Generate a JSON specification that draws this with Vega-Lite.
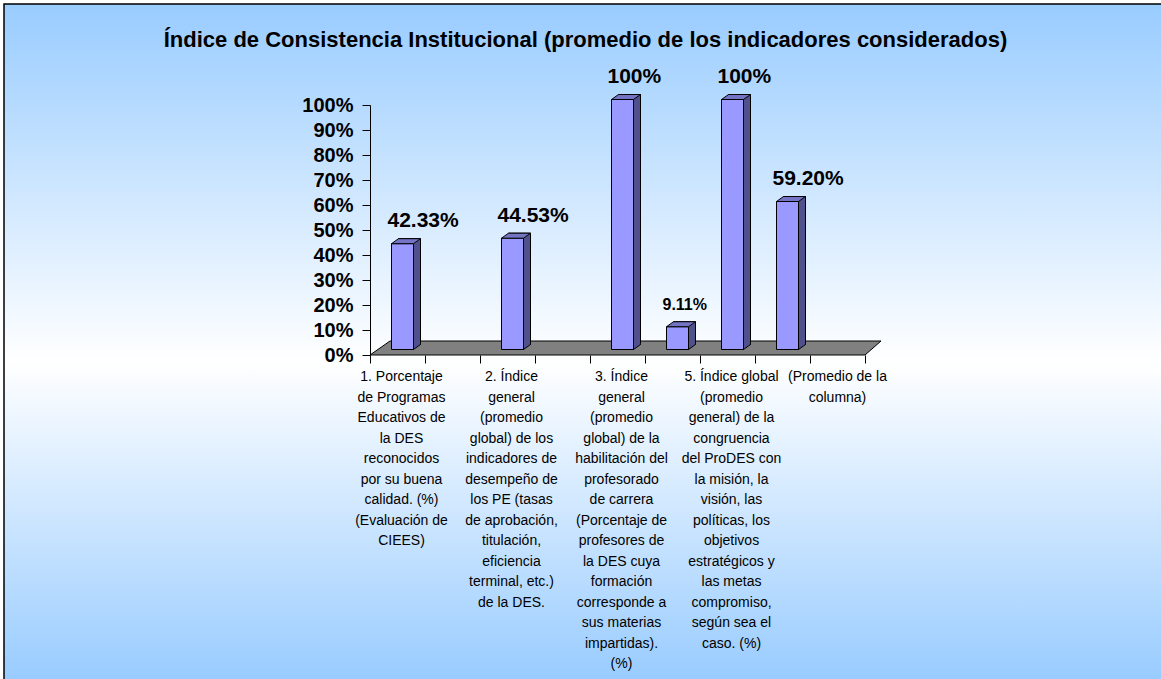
{
  "$schema": "https://vega.github.io/schema/vega-lite/v6.json",
  "autosize": {"type": "none"},
  "padding": {"left": 4, "top": 4, "right": 0, "bottom": 0},
  "width": 1157,
  "height": 675,
  "background": "white",
  "config": {
    "view": {
      "fill": {"gradient": "linear", "x1": 0, "y1": 0, "x2": 0, "y2": 1,
        "stops": [{"offset": 0, "color": "#99CCFF"}, {"offset": 0.53, "color": "#FFFFFF"}, {"offset": 1, "color": "#99CCFF"}]},
      "stroke": "black",
      "strokeWidth": 1.5,
      "strokeDash": [1157, 1832, 675]
    },
    "font": "Liberation Sans",
    "axis": {"domainColor": "black", "tickColor": "black", "grid": false}
  },
  "title": {
    "text": "Índice de Consistencia Institucional (promedio de los indicadores considerados)",
    "font": "Liberation Sans",
    "fontSize": 22,
    "fontWeight": "bold",
    "color": "black",
    "anchor": "middle",
    "frame": "group",
    "baseline": "alphabetic",
    "offset": -65,
    "dx": 3
  },
  "data": {
    "values": [
      {"cat": "1. Porcentaje|de Programas|Educativos de|la DES|reconocidos|por su buena|calidad. (%)|(Evaluación de|CIEES)", "value": 0.4233, "label": "42.33%"},
      {"cat": "2. Índice|general|(promedio|global)  de los|indicadores de|desempeño de|los PE (tasas|de aprobación,|titulación,|eficiencia|terminal, etc.)|de la DES.", "value": 0.4453, "label": "44.53%"},
      {"cat": "3. Índice|general|(promedio|global)  de la|habilitación del|profesorado|de carrera|(Porcentaje de|profesores de|la DES cuya|formación|corresponde a|sus materias|impartidas).|(%)", "value": 1, "label": "100%"},
      {"cat": "~c", "value": 0.0911, "label": "9.11%"},
      {"cat": "5. Índice global|(promedio|general) de la|congruencia|del ProDES con|la misión, la|visión, las|políticas, los|objetivos|estratégicos y|las metas|compromiso,|según sea el|caso. (%)", "value": 1, "label": "100%"},
      {"cat": "~d", "value": 0.592, "label": "59.20%"}
    ]
  },
  "encoding": {
    "x": {
      "field": "cat",
      "type": "nominal",
      "sort": null,
      "scale": {
        "domain": [
          "1. Porcentaje|de Programas|Educativos de|la DES|reconocidos|por su buena|calidad. (%)|(Evaluación de|CIEES)",
          "~a",
          "2. Índice|general|(promedio|global)  de los|indicadores de|desempeño de|los PE (tasas|de aprobación,|titulación,|eficiencia|terminal, etc.)|de la DES.",
          "~b",
          "3. Índice|general|(promedio|global)  de la|habilitación del|profesorado|de carrera|(Porcentaje de|profesores de|la DES cuya|formación|corresponde a|sus materias|impartidas).|(%)",
          "~c",
          "5. Índice global|(promedio|general) de la|congruencia|del ProDES con|la misión, la|visión, las|políticas, los|objetivos|estratégicos y|las metas|compromiso,|según sea el|caso. (%)",
          "~d",
          "(Promedio de la|columna)"
        ],
        "range": [366, 861],
        "paddingInner": 0,
        "paddingOuter": 0
      },
      "axis": {"orient": "bottom", "offset": -324, "title": null, "labels": false, "domain": false, "tickBand": "extent", "tickSize": 8}
    },
    "y": {
      "field": "value",
      "type": "quantitative",
      "scale": {"domain": [0, 1], "range": [351, 101], "nice": false},
      "axis": {
        "orient": "left",
        "offset": -366,
        "title": null,
        "values": [0, 0.1, 0.2, 0.3, 0.4, 0.5, 0.6, 0.7, 0.8, 0.9, 1],
        "format": ".0%",
        "tickSize": 8,
        "labelPadding": 9,
        "labelFont": "Liberation Sans",
        "labelFontSize": 20,
        "labelFontWeight": "bold",
        "labelColor": "black"
      }
    }
  },
  "layer": [
    {
      "transform": [{"filter": {"field": "value", "equal": 0.4233}}],
      "mark": {"type": "point", "shape": "M-27.5,0 L467.5,0 L483.5,-14 L-7.5,-14 Z", "size": 4, "filled": true, "fill": "#808080", "stroke": "black", "strokeWidth": 1, "opacity": 1},
      "encoding": {"y": {"datum": 0}}
    },
    {
      "mark": {"type": "bar", "width": {"band": 0.4}, "xOffset": 12, "yOffset": -10.5, "y2Offset": -10.5, "fill": "#50508C", "stroke": "black", "strokeWidth": 1},
      "encoding": {}
    },
    {
      "mark": {"type": "bar", "width": {"band": 0.4}, "xOffset": 5, "yOffset": -5.5, "y2Offset": -5.5, "fill": "#9999FF", "stroke": "black", "strokeWidth": 1},
      "encoding": {}
    },
    {
      "mark": {"type": "point", "shape": "M-6,-5.5 L16,-5.5 L23,-10.5 L1,-10.5 Z", "size": 4, "filled": true, "fill": "#7474C4", "stroke": "black", "strokeWidth": 1, "opacity": 1},
      "encoding": {}
    },
    {
      "mark": {"type": "point", "shape": "M16,-11.5 L16,-5.5 L23,-10.5 L23,-11.5", "size": 4, "filled": true, "fill": "#50508C", "stroke": "black", "strokeWidth": 1, "opacity": 1},
      "encoding": {"y": {"datum": 0}}
    },
    {
      "mark": {"type": "text", "align": "left", "baseline": "alphabetic", "dx": -10, "dy": -22, "font": "Liberation Sans", "fontWeight": "bold", "color": "black"},
      "encoding": {
        "text": {"field": "label"},
        "size": {"condition": {"test": "datum.value < 0.1", "value": 16}, "value": 21}
      }
    },
    {
      "transform": [{"filter": "indexof(datum.cat, '~') != 0"}],
      "mark": {"type": "text", "align": "center", "baseline": "top", "dx": 4, "dy": 15, "lineBreak": "|", "lineHeight": 20.5, "font": "Liberation Sans", "fontSize": 14, "color": "black"},
      "encoding": {
        "y": {"datum": 0},
        "text": {"field": "cat"}
      }
    },
    {
      "data": {"values": [{"cat": "(Promedio de la|columna)", "value": 0}]},
      "mark": {"type": "text", "align": "center", "baseline": "top", "dx": 0, "dy": 15, "lineBreak": "|", "lineHeight": 20.5, "font": "Liberation Sans", "fontSize": 14, "color": "black"},
      "encoding": {
        "y": {"datum": 0},
        "text": {"field": "cat"}
      }
    }
  ]
}
